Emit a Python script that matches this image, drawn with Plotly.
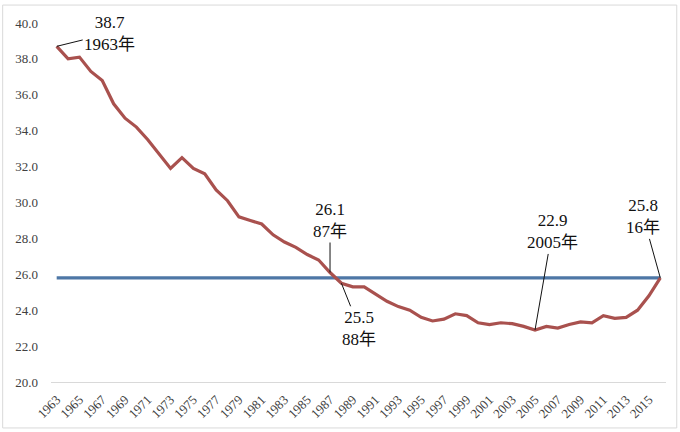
import plotly.graph_objects as go

years = list(range(1963, 2017))
values = [38.7, 38.0, 38.1, 37.3, 36.8, 35.5, 34.7, 34.2, 33.5, 32.7,
          31.9, 32.5, 31.9, 31.6, 30.7, 30.1, 29.2, 29.0, 28.8, 28.2,
          27.8, 27.5, 27.1, 26.8, 26.1, 25.5, 25.3, 25.3, 24.9, 24.5,
          24.2, 24.0, 23.6, 23.4, 23.5, 23.8, 23.7, 23.3, 23.2, 23.3,
          23.25, 23.1, 22.9, 23.1, 23.0, 23.2, 23.35, 23.3, 23.7, 23.55,
          23.6, 24.0, 24.8, 25.8]
ref_level = [25.8] * len(years)

tick_years = list(range(1963, 2016, 2))
tick_text = [str(y) for y in tick_years]
y_ticks = [20, 22, 24, 26, 28, 30, 32, 34, 36, 38, 40]
y_text = [f"{v:.1f}" for v in y_ticks]

# annotation: (year, value, text, ax, ay)
notes = [
    (1963, 38.7, "38.7<br>1963年", 53, -13),
    (1987, 26.1, "26.1<br>87年", 0, -52),
    (1988, 25.5, "25.5<br>88年", 18, 45),
    (2005, 22.9, "22.9<br>2005年", 17, -98),
    (2016, 25.8, "25.8<br>16年", -17, -61),
]

fig = go.Figure()
fig.add_trace(go.Scatter(x=years, y=ref_level, mode="lines",
                         line=dict(color="#4E77A6", width=3.2), hoverinfo="skip"))
fig.add_trace(go.Scatter(x=years, y=values, mode="lines",
                         line=dict(color="#A9514E", width=3.2)))

serif = "Liberation Serif, Times New Roman, Noto Sans CJK SC, serif"
for yr, v, t, ax, ay in notes:
    fig.add_annotation(x=yr, y=v, text=t, showarrow=True, ax=ax, ay=ay,
                       arrowhead=0, arrowwidth=1, arrowcolor="#111111",
                       font=dict(family=serif, size=17, color="#111111"),
                       align="center")

fig.add_shape(type="rect", xref="paper", yref="paper",
              x0=-0.0786, x1=1.0175, y0=-0.128, y1=1.05,
              line=dict(color="#d9d9d9", width=1), layer="below")

fig.update_layout(
    width=680, height=432,
    margin=dict(l=51, r=14, t=23, b=50),
    paper_bgcolor="white", plot_bgcolor="white",
    showlegend=False,
    font=dict(family=serif, color="#404040"),
)
fig.update_xaxes(range=[1962.5, 2016.5], tickvals=tick_years, ticktext=tick_text,
                 tickangle=-45, showgrid=False, zeroline=False,
                 showline=True, linecolor="#d9d9d9", linewidth=1,
                 ticks="", ticklabelstandoff=4, automargin=False,
                 tickfont=dict(family=serif, size=13, color="#404040"))
fig.update_yaxes(range=[20, 40], tickvals=y_ticks, ticktext=y_text,
                 showgrid=False, zeroline=False, showline=False, ticks="",
                 ticklabelstandoff=12, automargin=False,
                 tickfont=dict(family=serif, size=13, color="#404040"))

fig.write_html("out.html")
